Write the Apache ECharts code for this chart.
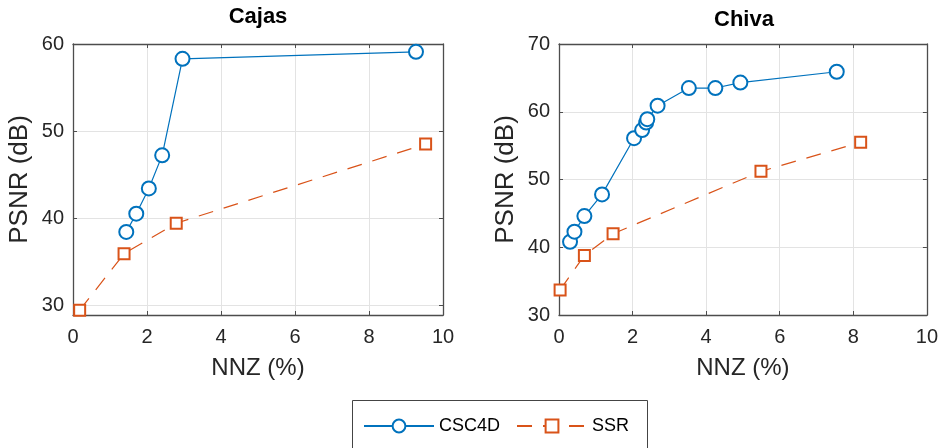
<!DOCTYPE html>
<html><head><meta charset="utf-8">
<script src="https://cdn.jsdelivr.net/npm/echarts@6/dist/echarts.min.js"></script>
<style>html,body{margin:0;padding:0;background:#fff}#c{width:941px;height:448px}</style>
</head><body><div id="c"></div>
<script>
const titles = ['Cajas', 'Chiva'];
const seriesNames = ['CSC4D', 'SSR'];
const cajasCscX = [1.44, 1.71, 2.05, 2.41, 2.96, 9.27];
const cajasCscY = [38.4, 40.5, 43.4, 47.2, 58.3, 59.1];
const cajasSsrX = [0.18, 1.38, 2.79, 9.53];
const cajasSsrY = [29.4, 35.9, 39.4, 48.5];
const chivaCscX = [0.30, 0.42, 0.69, 1.17, 2.04, 2.26, 2.37, 2.40, 2.68, 3.53, 4.25, 4.93, 7.55];
const chivaCscY = [40.8, 42.3, 44.6, 47.8, 56.1, 57.3, 58.4, 58.9, 60.9, 63.5, 63.5, 64.3, 65.9];
const chivaSsrX = [0.03, 0.69, 1.47, 5.49, 8.20];
const chivaSsrY = [33.7, 38.8, 42.0, 51.2, 55.5];
const xRange = [0, 10];
const cajasYRange = [28.85, 60];
const chivaYRange = [30, 70];

const zip = (xs, ys) => xs.map((x, i) => [x, ys[i]]);
const FONT = '"Liberation Sans", Arial, Helvetica, sans-serif';
const TXT = '#262626';
const AX = '#4d4d4d';
const BLUE = '#0072BD', ORANGE = '#D95319';

const grids = [
  {left: 73, top: 44, width: 370, height: 271},
  {left: 559, top: 44, width: 370, height: 271}
];
const yRanges = [cajasYRange, chivaYRange];

const xAxes = [], yAxes = [];
[0, 1].forEach(g => {
  xAxes.push({
    type: 'value', gridIndex: g, min: xRange[0], max: xRange[1], interval: 2,
    name: 'NNZ (%)', nameLocation: 'middle', nameGap: 41,
    nameTextStyle: {fontFamily: FONT, fontSize: 24, color: TXT},
    axisLine: {show: true, onZero: false, lineStyle: {color: AX, width: 1.3}},
    axisTick: {show: true, inside: true, length: 4, lineStyle: {color: AX}},
    axisLabel: {fontFamily: FONT, fontSize: 20, color: TXT, margin: 12},
    splitLine: {show: true, lineStyle: {color: '#e3e3e3', width: 1}}
  });
  xAxes.push({
    type: 'value', gridIndex: g, position: 'top', min: xRange[0], max: xRange[1], interval: 2,
    axisLine: {show: true, onZero: false, lineStyle: {color: AX, width: 1.3}},
    axisTick: {show: true, inside: true, length: 4, lineStyle: {color: AX}},
    axisLabel: {show: false}, splitLine: {show: false}
  });
  const yr = yRanges[g];
  yAxes.push({
    type: 'value', gridIndex: g, min: yr[0], max: yr[1], splitNumber: 3, minInterval: 10, maxInterval: 10,
    name: 'PSNR (dB)', nameLocation: 'middle', nameGap: 40,
    nameTextStyle: {fontFamily: FONT, fontSize: 26, color: TXT},
    axisLine: {show: true, onZero: false, lineStyle: {color: AX, width: 1.3}},
    axisTick: {show: true, inside: true, length: 4, lineStyle: {color: AX}},
    axisLabel: {fontFamily: FONT, fontSize: 20, color: TXT, margin: 9, showMinLabel: g === 1},
    splitLine: {show: true, lineStyle: {color: '#e3e3e3', width: 1}}
  });
  yAxes.push({
    type: 'value', gridIndex: g, position: 'right', min: yr[0], max: yr[1], splitNumber: 3, minInterval: 10, maxInterval: 10,
    axisLine: {show: true, onZero: false, lineStyle: {color: AX, width: 1.3}},
    axisTick: {show: true, inside: true, length: 4, lineStyle: {color: AX}},
    axisLabel: {show: false}, splitLine: {show: false}
  });
});

const dataSets = [
  [zip(cajasCscX, cajasCscY), zip(cajasSsrX, cajasSsrY)],
  [zip(chivaCscX, chivaCscY), zip(chivaSsrX, chivaSsrY)]
];
const series = [];
[0, 1].forEach(g => {
  series.push({
    name: seriesNames[0], type: 'line', xAxisIndex: g * 2, yAxisIndex: g * 2,
    data: dataSets[g][0], symbol: 'emptyCircle', symbolSize: 14,
    lineStyle: {color: BLUE, width: 1.2},
    itemStyle: {color: BLUE, borderColor: BLUE, borderWidth: 1.4},
    animation: false, z: 3
  });
  series.push({
    name: seriesNames[1], type: 'line', xAxisIndex: g * 2, yAxisIndex: g * 2,
    data: dataSets[g][1], symbol: 'emptyRect', symbolSize: 11,
    lineStyle: {color: ORANGE, width: 1.2, type: [15, 11]},
    itemStyle: {color: ORANGE, borderColor: ORANGE, borderWidth: 2},
    animation: false, z: 2
  });
});

const chart = echarts.init(document.getElementById('c'), null, {renderer: 'canvas'});
chart.setOption({
  backgroundColor: '#fff',
  animation: false,
  grid: grids,
  xAxis: xAxes,
  yAxis: yAxes,
  series: series,
  legend: {
    data: seriesNames, left: 363, top: 417, itemWidth: 70, itemHeight: 16, itemGap: 16,
    padding: 0,
    textStyle: {fontFamily: FONT, fontSize: 18, color: '#000'}
  },
  graphic: [
    {type: 'text', x: 258, y: 17, style: {text: titles[0], font: 'bold 22px ' + FONT, fill: '#000', textAlign: 'center', textVerticalAlign: 'middle'}},
    {type: 'text', x: 744, y: 20, style: {text: titles[1], font: 'bold 22px ' + FONT, fill: '#000', textAlign: 'center', textVerticalAlign: 'middle'}},
    {type: 'rect', z: -1, shape: {x: 352.5, y: 400.5, width: 295, height: 60}, style: {fill: '#fff', stroke: '#444', lineWidth: 1}}
  ]
});
</script></body></html>
